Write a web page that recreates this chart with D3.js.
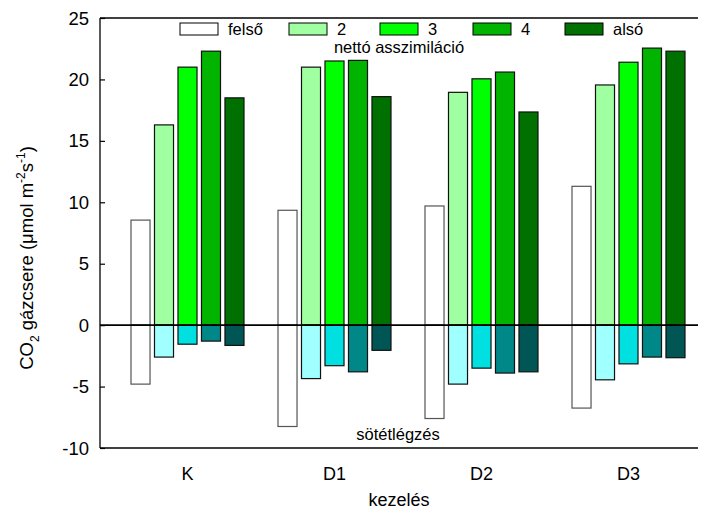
<!DOCTYPE html>
<html>
<head>
<meta charset="utf-8">
<script src="https://cdn.jsdelivr.net/npm/d3@7"></script>
<style>
  body { margin: 0; background: #fff; }
  svg { font-family: "Liberation Sans", Arial, sans-serif; }
</style>
</head>
<body>
<div id="chart"></div>
<script>
// kezelések
const categories = ["K", "D1", "D2", "D3"];
const series = ["felső", "2", "3", "4", "alsó"];

// nettó asszimiláció (pozitív)
const posFelso = [8.55, 9.35, 9.7, 11.3];
const pos2 = [16.3, 21.0, 18.95, 19.55];
const pos3 = [21.0, 21.5, 20.05, 21.4];
const pos4 = [22.3, 21.55, 20.6, 22.55];
const posAlso = [18.5, 18.6, 17.35, 22.3];

// sötétlégzés (negatív)
const negFelso = [-4.8, -8.25, -7.6, -6.75];
const neg2 = [-2.6, -4.35, -4.8, -4.45];
const neg3 = [-1.55, -3.3, -3.5, -3.15];
const neg4 = [-1.3, -3.8, -3.9, -2.6];
const negAlso = [-1.65, -2.05, -3.8, -2.65];

const yTicks = [-10, -5, 0, 5, 10, 15, 20, 25];

const posColors = ["#ffffff", "#a0ffa0", "#00ff00", "#00b400", "#007000"];
const negColors = ["#ffffff", "#a0ffff", "#00e0e0", "#008888", "#005555"];

const posSeries = [posFelso, pos2, pos3, pos4, posAlso];
const negSeries = [negFelso, neg2, neg3, neg4, negAlso];

const width = 706, height = 511;
const plot = { left: 100, right: 698, top: 18, bottom: 448 };

const svg = d3.select("#chart").append("svg")
  .attr("width", width)
  .attr("height", height);

const y = d3.scaleLinear().domain([-10, 25]).range([plot.bottom, plot.top]);
const x = d3.scaleBand().domain(categories).range([114, 702]);
const xSub = d3.scaleBand().domain(series).range([-56.5, 56.5]).paddingInner(0.19);

// bars
const rows = [];
series.forEach((s, i) => {
  categories.forEach((c, j) => {
    rows.push({ c: c, s: s, v: posSeries[i][j], fill: posColors[i] });
    rows.push({ c: c, s: s, v: negSeries[i][j], fill: negColors[i] });
  });
});

svg.append("g").selectAll("rect")
  .data(rows)
  .enter()
  .append("rect")
  .attr("x", d => x(d.c) + x.bandwidth() / 2 + xSub(d.s))
  .attr("width", xSub.bandwidth())
  .attr("y", d => y(Math.max(0, d.v)))
  .attr("height", d => Math.abs(y(d.v) - y(0)))
  .attr("fill", d => d.fill)
  .attr("stroke", d => d.s === "felső" ? "#555" : "#111")
  .attr("stroke-width", 1.2);

// frame
const frame = svg.append("g").attr("stroke", "#000").attr("stroke-width", 1.3);
frame.append("line").attr("x1", plot.left).attr("x2", plot.right).attr("y1", plot.top).attr("y2", plot.top);
frame.append("line").attr("x1", plot.left).attr("x2", plot.right).attr("y1", plot.bottom).attr("y2", plot.bottom);
frame.append("line").attr("x1", plot.left).attr("x2", plot.left).attr("y1", plot.top).attr("y2", plot.bottom);
frame.append("line").attr("x1", plot.left).attr("x2", plot.right).attr("y1", y(0)).attr("y2", y(0)).attr("stroke-width", 1.6);

// y axis (inner ticks)
const yAxis = svg.append("g")
  .attr("transform", `translate(${plot.left},0)`)
  .call(d3.axisRight(y).tickValues(yTicks).tickSize(5).tickFormat(""));
yAxis.select(".domain").remove();
yAxis.selectAll("line").attr("stroke", "#000").attr("stroke-width", 1.2);

svg.append("g").selectAll("text")
  .data(yTicks)
  .enter()
  .append("text")
  .attr("x", 89)
  .attr("y", d => y(d) + 6.5)
  .attr("text-anchor", "end")
  .style("font-size", "18.5px")
  .text(d => d);

// x labels
svg.append("g").selectAll("text")
  .data(categories)
  .enter()
  .append("text")
  .attr("x", d => x(d) + x.bandwidth() / 2)
  .attr("y", 480)
  .attr("text-anchor", "middle")
  .style("font-size", "18px")
  .text(d => d);

svg.append("text")
  .attr("x", 399)
  .attr("y", 506)
  .attr("text-anchor", "middle")
  .style("font-size", "18px")
  .text("kezelés");

// y title
const yt = svg.append("text")
  .attr("transform", "translate(33,258) rotate(-90)")
  .attr("text-anchor", "middle")
  .style("font-size", "18.5px");
yt.append("tspan").text("CO");
yt.append("tspan").attr("dy", 6).style("font-size", "12px").text("2");
yt.append("tspan").attr("dy", -6).text(" gázcsere (μmol m");
yt.append("tspan").attr("dy", -8).style("font-size", "12px").text("-2");
yt.append("tspan").attr("dy", 8).text("s");
yt.append("tspan").attr("dy", -8).style("font-size", "12px").text("-1");
yt.append("tspan").attr("dy", 8).text(")");

// annotations
svg.append("text")
  .attr("x", 399).attr("y", 53)
  .attr("text-anchor", "middle")
  .style("font-size", "16.5px")
  .text("nettó asszimiláció");

svg.append("text")
  .attr("x", 398).attr("y", 440)
  .attr("text-anchor", "middle")
  .style("font-size", "16.5px")
  .text("sötétlégzés");

// legend
const legendX = [180, 289, 380, 473, 565];
const legend = svg.append("g");
series.forEach((s, i) => {
  legend.append("rect")
    .attr("x", legendX[i]).attr("y", 23)
    .attr("width", 38).attr("height", 12)
    .attr("fill", posColors[i])
    .attr("stroke", "#000").attr("stroke-width", 1);
  legend.append("text")
    .attr("x", legendX[i] + 48).attr("y", 35)
    .style("font-size", "16.5px")
    .text(s);
});
</script>
</body>
</html>
